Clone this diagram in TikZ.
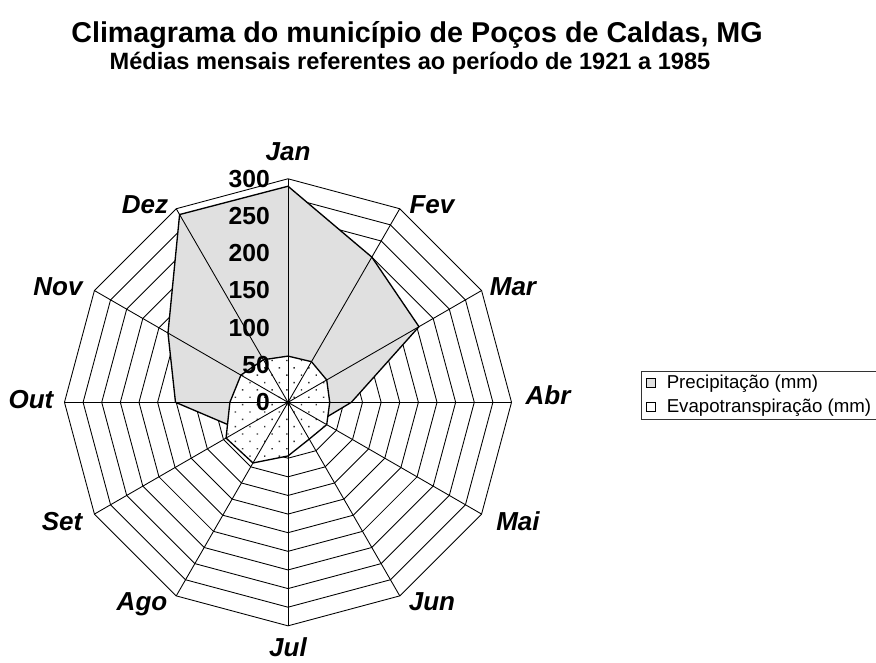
\documentclass[tikz,border=0pt]{standalone}
\usepackage{fontspec}
\setmainfont{Liberation Sans}
\usepackage{tikz}
\usetikzlibrary{patterns.meta}

\begin{document}
\begin{tikzpicture}[
    x=0.75pt, y=-0.75pt,
    % grid of the radar
    ring/.style={black, line width=0.65pt},
    spoke/.style={black, line width=0.65pt},
    % the two series
    precip/.style={fill=black!12, draw=black, line width=1pt, line join=miter},
    evap/.style={fill=white, draw=black, line width=1pt,
        postaction={pattern={Dots[distance=7.8pt, angle=45, radius=0.75pt]},
                    pattern color=black!80}},
    month/.style={font=\fontsize{19.5}{22}\selectfont\bfseries\itshape, anchor=base},
    scalelbl/.style={font=\fontsize{18.5}{20}\selectfont\bfseries, anchor=base east, inner sep=0pt},
    legtxt/.style={font=\fontsize{14}{16}\selectfont, anchor=base west, inner sep=0pt}
]
\useasboundingbox (0,0) rectangle (876,662);

% --- Title ---
\node[font=\fontsize{21.5}{24}\selectfont\bfseries, anchor=base] (title) at (417,42.5)
    {Climagrama do município de Poços de Caldas, MG};
\node[font=\fontsize{17.7}{20}\selectfont\bfseries, anchor=base] (subtitle) at (410,69.5)
    {Médias mensais referentes ao período de 1921 a 1985};

\coordinate (c) at (288,402.3);

\begin{scope}[shift={(c)}, x=0.5588pt, y=-0.5588pt]
% --- Rings every 25 mm ---
\foreach \r in {25,50,...,300}
    \draw[ring] (-90:\r) -- (-60:\r) -- (-30:\r) -- (0:\r) -- (30:\r) -- (60:\r)
        -- (90:\r) -- (120:\r) -- (150:\r) -- (180:\r) -- (210:\r) -- (240:\r) -- cycle;

% --- Precipitation (Jan ... Dez) ---
\draw[precip] (-90:290) -- (-60:225) -- (-30:203) -- (0:85) -- (30:50) -- (60:30)
    -- (90:25) -- (120:35) -- (150:74) -- (180:151) -- (210:186) -- (240:291) -- cycle;

% --- Evapotranspiration ---
\draw[evap] (-90:62) -- (-60:63) -- (-30:60) -- (0:56) -- (30:60) -- (60:57)
    -- (90:72) -- (120:94) -- (150:96) -- (180:78) -- (210:73) -- (240:66) -- cycle;

% --- Spokes ---
\foreach \a in {-90,-60,...,240}
    \draw[spoke] (0,0) -- (\a:300);
\end{scope}

% --- Scale labels on the Jan axis ---
\foreach \v [count=\i from 0] in {0,50,...,300}
    \node[scalelbl] (s\v) at (270,410.6-37.25*\i) {\v};

% --- Months ---
\node[month] (jan) at (288,160.5) {Jan};
\node[month] (fev) at (432,213.5) {Fev};
\node[month] (mar) at (513,295) {Mar};
\node[month] (abr) at (548,404) {Abr};
\node[month] (mai) at (518,530) {Mai};
\node[month] (jun) at (432,610) {Jun};
\node[month] (jul) at (288,656.5) {Jul};
\node[month] (ago) at (142,610) {Ago};
\node[month] (set) at (62,530) {Set};
\node[month] (out) at (31,408) {Out};
\node[month] (nov) at (58,295) {Nov};
\node[month] (dez) at (145,213.5) {Dez};

% --- Legend ---
\draw[black!80, line width=0.6pt] (880,371) -- (641.5,371) -- (641.5,419.5) -- (880,419.5);
\draw[fill=black!12, line width=0.6pt] (646.5,378) rectangle (655.5,387);
\draw[fill=white, line width=0.6pt] (646.5,402) rectangle (655.5,411);
\node[legtxt] (lprec) at (666.5,388.5) {Precipitação (mm)};
\node[legtxt] (levap) at (666.5,412.5) {Evapotranspiração (mm)};
\end{tikzpicture}
\end{document}
